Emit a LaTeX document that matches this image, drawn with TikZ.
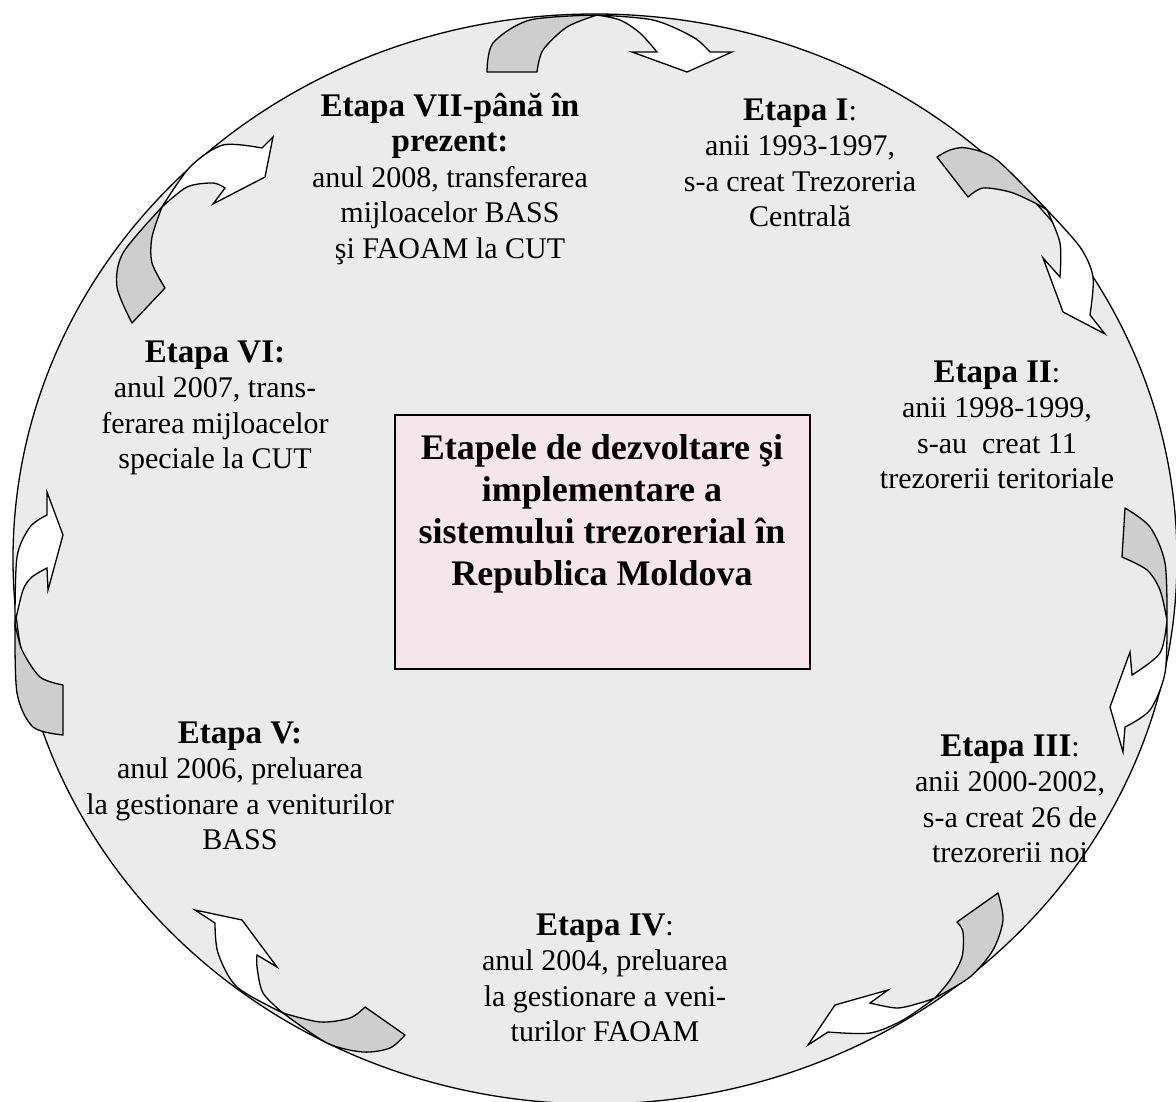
\documentclass[tikz,border=0pt]{standalone}
\usepackage{fontspec}
\setmainfont{Liberation Serif}
\definecolor{ringgray}{RGB}{235,235,235}
\definecolor{curlgray}{RGB}{206,206,206}
\definecolor{boxpink}{RGB}{245,230,236}
\newcommand\stagehead[1]{{\fontsize{33}{35.5}\selectfont\bfseries #1}}
\begin{document}
\begin{tikzpicture}[x=1pt,y=-1pt,
  outline/.style={draw=black, line width=1.3pt},
  back/.style={outline, fill=curlgray, line join=round},
  front/.style={outline, fill=white, line join=miter},
  stage/.style={align=center, inner sep=0pt, font=\fontsize{30}{35.5}\selectfont},
  title/.style={align=center, inner sep=0pt, font=\fontsize{36}{42}\selectfont\bfseries}]
\useasboundingbox (0,0) rectangle (1176,1102);

% the ring
\draw[outline, fill=ringgray] (595,559) ellipse [x radius=582pt, y radius=545pt];

% central box
\node[outline, fill=boxpink, minimum width=415pt, minimum height=254pt, inner sep=0pt] (core) at (602.5,542) {};
\node[title] (coretext) at (602,514) {Etapele de dezvoltare şi\\implementare a\\sistemului trezorerial în\\Republica Moldova};

% curled arrows between stages (back face grey, front face white)
% VII -> I
\draw[back] plot[smooth] coordinates {(537,72) (543,50) (567,27) (597,15)} -- plot[smooth] coordinates {(597,15) (530,20) (493,43) (487,72)} -- cycle;
\draw[front] plot[smooth] coordinates {(597,15) (653,20) (693,37) (710,52)} -- (732,52) -- (687,72) -- (632,52) -- plot[smooth] coordinates {(657,52) (640,33) (620,20) (597,15)} -- cycle;
% I -> II
\draw[back] plot[smooth] coordinates {(968,197) (983,188) (1010,192) (1033,202) (1047,210)} -- plot[smooth] coordinates {(1047,210) (997,160) (967,148) (950,150) (937,157)} -- cycle;
\draw[front] plot[smooth] coordinates {(1047,210) (1080,247) (1093,277) (1090,315)} -- (1105,334) -- (1063,312) -- (1043,258) -- plot[smooth] coordinates {(1060,277) (1060,243) (1047,210)} -- cycle;
% II -> III
\draw[back] plot[smooth] coordinates {(1122,557) (1147,570) (1160,590) (1167,620)} -- plot[smooth] coordinates {(1167,620) (1165,563) (1150,527) (1125,508)} -- cycle;
\draw[front] plot[smooth] coordinates {(1167,620) (1165,673) (1150,710) (1125,727)} -- (1123,752) -- (1110,707) -- (1130,652) -- plot[smooth] coordinates {(1132,675) (1160,653) (1167,620)} -- cycle;
% III -> IV
\draw[back] plot[smooth] coordinates {(957,922) (963,932) (962,957) (950,980) (935,998)} -- plot[smooth] coordinates {(935,998) (970,977) (993,950) (1003,920) (998,893)} -- cycle;
\draw[front] plot[smooth] coordinates {(935,998) (903,1020) (870,1033) (828,1032)} -- (808,1045) -- (835,1005) -- (888,990) -- plot[smooth] coordinates {(870,1003) (897,1008) (920,1003) (935,998)} -- cycle;
% IV -> V
\draw[back] plot[smooth] coordinates {(365,1007) (350,1018) (320,1022) (283,1013)} -- plot[smooth] coordinates {(283,1013) (327,1043) (363,1052) (390,1048) (405,1035)} -- cycle;
\draw[front] plot[smooth] coordinates {(283,1013) (263,993) (257,967) (257,955)} -- (277,967) -- (242,920) -- (195,910) -- plot[smooth] coordinates {(215,923) (218,953) (237,987) (283,1013)} -- cycle;
% V -> VI
\draw[back] plot[smooth] coordinates {(63,685) (40,677) (22,650) (15,623)} -- plot[smooth] coordinates {(15,623) (17,693) (33,727) (63,735)} -- cycle;
\draw[front] plot[smooth] coordinates {(15,623) (23,590) (32,577) (47,568)} -- (48,590) -- (63,535) -- (47,492) -- plot[smooth] coordinates {(47,515) (30,527) (17,557) (15,623)} -- cycle;
% VI -> VII
\draw[back] plot[smooth] coordinates {(165,288) (152,263) (152,237) (162,207)} -- plot[smooth] coordinates {(162,207) (123,253) (117,287) (132,323)} -- cycle;
\draw[front] plot[smooth] coordinates {(162,207) (187,187) (213,183) (225,188)} -- (213,204) -- (265,177) -- (273,137) -- plot[smooth] coordinates {(262,148) (223,145) (190,167) (162,207)} -- cycle;

% stage descriptions
\node[stage] (s7) at (450,179) {\stagehead{Etapa VII-până în}\\\stagehead{prezent:}\\anul 2008, transferarea\\mijloacelor BASS\\şi FAOAM la CUT};
\node[stage] (s1) at (800,163) {\stagehead{Etapa I}:\\anii 1993-1997,\\s-a creat Trezoreria\\Centrală};
\node[stage] (s2) at (997,425) {\stagehead{Etapa II}:\\anii 1998-1999,\\s-au~ creat 11\\trezorerii teritoriale};
\node[stage] (s3) at (1010,799) {\stagehead{Etapa III}:\\anii 2000-2002,\\s-a creat 26 de\\trezorerii noi};
\node[stage] (s4) at (605,978) {\stagehead{Etapa IV}:\\anul 2004, preluarea\\la gestionare a veni-\\turilor FAOAM};
\node[stage] (s5) at (240,786) {\stagehead{Etapa V:}\\anul 2006, preluarea\\la gestionare a veniturilor\\BASS};
\node[stage] (s6) at (215,408) {\stagehead{Etapa VI:}\\anul 2007, trans-\\ferarea mijloacelor\\speciale la CUT};
\end{tikzpicture}
\end{document}
